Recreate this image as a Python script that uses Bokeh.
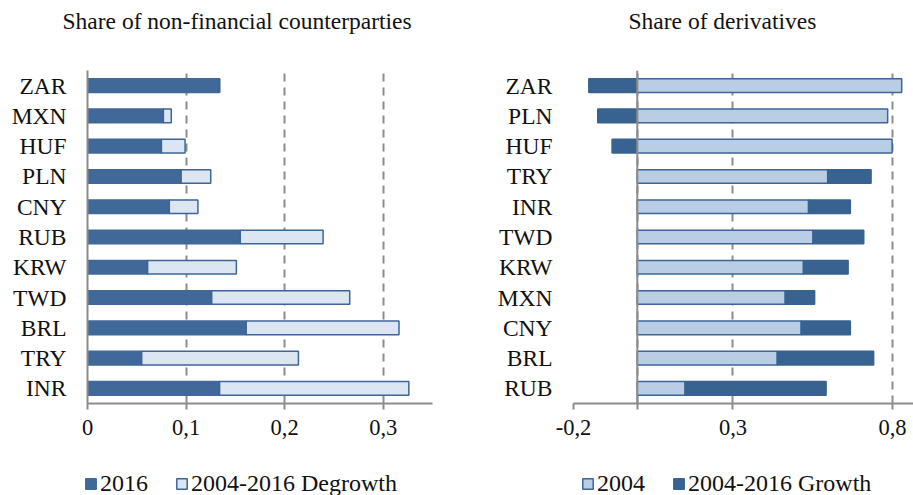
import numpy as np
from bokeh.plotting import figure
from bokeh.models import FactorRange, Range1d, FixedTicker, Legend, LegendItem, Span
from bokeh.layouts import row, column
from bokeh.embed import file_html
from bokeh.resources import INLINE

# ---------------- data ----------------
nf_categories = ["ZAR", "MXN", "HUF", "PLN", "CNY", "RUB", "KRW", "TWD", "BRL", "TRY", "INR"]
nf_2016 = [0.134, 0.077, 0.075, 0.095, 0.083, 0.155, 0.061, 0.126, 0.161, 0.055, 0.134]
nf_degrowth = [0.000, 0.008, 0.024, 0.030, 0.029, 0.084, 0.090, 0.140, 0.155, 0.159, 0.192]

der_categories = ["ZAR", "PLN", "HUF", "TRY", "INR", "TWD", "KRW", "MXN", "CNY", "BRL", "RUB"]
der_2004 = [0.829, 0.785, 0.799, 0.597, 0.537, 0.551, 0.521, 0.464, 0.514, 0.439, 0.150]
der_growth = [-0.152, -0.124, -0.079, 0.136, 0.131, 0.159, 0.140, 0.092, 0.154, 0.302, 0.442]

nf_ticks = [0, 0.1, 0.2, 0.3]
nf_tick_labels = ["0", "0,1", "0,2", "0,3"]
der_ticks = [-0.2, 0, 0.3, 0.8]
der_tick_labels = ["-0,2", "", "0,3", "0,8"]

nf_title = "Share of non-financial counterparties"
der_title = "Share of derivatives"
nf_legend = ["2016", "2004-2016 Degrowth"]
der_legend = ["2004", "2004-2016 Growth"]

# ---------------- style ----------------
FONT = "Liberation Serif"
DARK = "#406899"
DARK2 = "#386290"
EDGE = "#3D6596"
LIGHT1 = "#DCE6F2"
LIGHT2 = "#B9CDE5"
GREY = "#8C8C8C"
TXT = "#111111"
BAR_H = 0.45
W1, W2 = 456, 457


def style(p, ticks, labels):
    p.outline_line_color = None
    p.ygrid.grid_line_color = None
    p.xgrid.grid_line_color = GREY
    p.xgrid.grid_line_dash = "8 6"
    p.xgrid.grid_line_width = 2
    p.xaxis.ticker = FixedTicker(ticks=ticks)
    p.xaxis.major_label_overrides = {t: l for t, l in zip(ticks, labels)}
    p.xaxis.axis_line_color = GREY
    p.xaxis.axis_line_width = 2
    p.xaxis.major_tick_line_color = GREY
    p.xaxis.major_tick_line_width = 2
    p.xaxis.major_tick_out = 6
    p.xaxis.major_tick_in = 0
    p.xaxis.minor_tick_line_color = None
    p.xaxis.major_label_standoff = 10
    p.xaxis.major_label_text_font = FONT
    p.xaxis.major_label_text_font_size = "22.5px"
    p.xaxis.major_label_text_color = TXT
    p.yaxis.major_tick_line_color = None
    p.yaxis.minor_tick_line_color = None
    p.yaxis.major_tick_out = 0
    p.yaxis.major_tick_in = 0
    p.yaxis.major_label_standoff = 21
    p.yaxis.major_label_text_font = FONT
    p.yaxis.major_label_text_font_size = "23.5px"
    p.yaxis.major_label_text_color = TXT


def title_fig(text, width, offset):
    t = figure(width=width, height=70, output_backend="svg", toolbar_location=None,
               x_axis_type=None, y_axis_type=None, min_border=0,
               x_range=Range1d(0, 1), y_range=Range1d(0, 1), title=text)
    t.outline_line_color = None
    t.title.text_font = FONT
    t.title.text_font_size = "23.5px"
    t.title.text_font_style = "normal"
    t.title.text_color = TXT
    t.title.align = "left"
    t.title.offset = offset
    t.title.standoff = 10
    return t


def legend_fig(width, labels, series, fills, lines, x):
    # a strip that only carries the legend; its bar renderers are hidden,
    # the legend swatches take the bars' styles
    lf = figure(width=width, height=45, output_backend="svg", toolbar_location=None,
                x_axis_type=None, y_axis_type=None, min_border=0,
                x_range=Range1d(0, 1), y_range=Range1d(0, 1))
    lf.outline_line_color = None
    items = []
    for lab, vals, fc, lc in zip(labels, series, fills, lines):
        r = lf.hbar(y=list(range(len(vals))), right=list(vals), height=BAR_H,
                    fill_color=fc, line_color=lc, line_width=1.5, visible=False)
        items.append(LegendItem(label=lab, renderers=[r]))
    lg = Legend(items=items, orientation="horizontal", location=(x, -2),
                glyph_width=13, glyph_height=13, label_standoff=3, spacing=27,
                padding=0, margin=0, border_line_color=None,
                background_fill_alpha=0, inactive_fill_alpha=0,
                label_text_font=FONT, label_text_font_size="24px",
                label_text_color=TXT)
    lf.add_layout(lg)
    return lf


# ---------------- left panel ----------------
p1 = figure(width=W1, height=380, output_backend="svg", toolbar_location=None,
            y_range=FactorRange(*nf_categories[::-1], range_padding=0),
            x_range=Range1d(0, 0.35),
            min_border_left=87, min_border_right=24, min_border_top=0, min_border_bottom=47)
nf_end = np.array(nf_2016) + np.array(nf_degrowth)
r1 = p1.hbar(y=nf_categories, left=0, right=nf_2016, height=BAR_H,
             fill_color=DARK, line_color=DARK, line_width=1.5)
r2 = p1.hbar(y=nf_categories, left=nf_2016, right=list(nf_end), height=BAR_H,
             fill_color=LIGHT1, line_color=EDGE, line_width=1.5)
style(p1, nf_ticks, nf_tick_labels)
p1.yaxis.axis_line_color = GREY
p1.yaxis.axis_line_width = 2

# ---------------- right panel ----------------
p2 = figure(width=W2, height=380, output_backend="svg", toolbar_location=None,
            y_range=FactorRange(*der_categories[::-1], range_padding=0),
            x_range=Range1d(-0.2, 0.866),
            min_border_left=117, min_border_right=0, min_border_top=0, min_border_bottom=47)
g = np.array(der_growth)
b = np.array(der_2004)
g_left = np.where(g >= 0, b, g)
g_right = np.where(g >= 0, b + g, 0)
r3 = p2.hbar(y=der_categories, left=0, right=der_2004, height=BAR_H,
             fill_color=LIGHT2, line_color=EDGE, line_width=1.5)
r4 = p2.hbar(y=der_categories, left=list(g_left), right=list(g_right), height=BAR_H,
             fill_color=DARK2, line_color=DARK2, line_width=1.5)
style(p2, der_ticks, der_tick_labels)
p2.yaxis.axis_line_color = None
p2.add_layout(Span(location=0, dimension="height", line_color=GREY, line_width=2))

t1 = title_fig(nf_title, W1, 62)
t2 = title_fig(der_title, W2, 172)
l1 = legend_fig(W1, nf_legend, [nf_2016, nf_degrowth], [DARK, LIGHT1], [DARK, EDGE], 84)
l2 = legend_fig(W2, der_legend, [der_2004, der_growth], [LIGHT2, DARK2], [EDGE, DARK2], 125)

layout = column(row(t1, t2), row(p1, p2), row(l1, l2))
open("out.html", "w").write(file_html(layout, INLINE))
